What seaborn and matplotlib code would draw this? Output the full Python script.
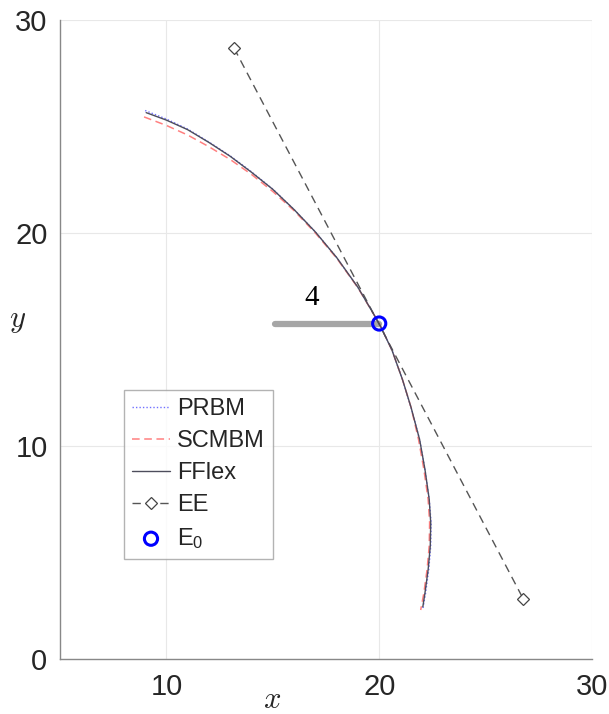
import matplotlib
matplotlib.use("Agg")
import matplotlib.pyplot as plt
import numpy as np
import pandas as pd
import seaborn as sns

# Beam deflection curves (x, y) for each model
fflex_x = [9.05, 10.0, 11.0, 12.0, 13.0, 14.0, 15.0, 16.0, 17.0, 18.0, 19.0, 20.0,
           20.6, 21.1, 21.5, 21.9, 22.15, 22.35, 22.42, 22.40, 22.30, 22.15, 22.05]
fflex_y = [25.65, 25.3, 24.85, 24.25, 23.6, 22.85, 22.05, 21.1, 20.05, 18.85, 17.45, 15.75,
           14.5, 13.1, 11.8, 10.3, 8.9, 7.5, 6.4, 5.3, 4.2, 3.1, 2.45]

scmbm_x = [8.95, 10.0, 11.0, 12.0, 13.0, 14.0, 15.0, 16.0, 17.0, 18.0, 19.0, 20.0,
           20.6, 21.1, 21.5, 21.85, 22.1, 22.3, 22.37, 22.35, 22.25, 22.1, 21.95]
scmbm_y = [25.45, 25.05, 24.6, 24.05, 23.45, 22.75, 21.95, 21.05, 20.0, 18.82, 17.43, 15.75,
           14.5, 13.1, 11.8, 10.3, 8.9, 7.5, 6.4, 5.3, 4.2, 3.1, 2.3]

prbm_x = [9.0, 10.0, 11.0, 12.0, 13.0, 14.0, 15.0, 16.0, 17.0, 18.0, 19.0, 20.0,
          20.6, 21.1, 21.5, 21.9, 22.15, 22.35, 22.44, 22.42, 22.33, 22.18, 22.05]
prbm_y = [25.75, 25.35, 24.88, 24.27, 23.62, 22.87, 22.06, 21.1, 20.05, 18.85, 17.45, 15.75,
          14.5, 13.1, 11.8, 10.3, 8.9, 7.5, 6.4, 5.3, 4.2, 3.1, 2.35]

# End-effector tangent line through E0
ee_x = [13.18, 26.77]
ee_y = [28.68, 2.82]

# Initial end point
e0_x = [20.0]
e0_y = [15.75]

# Dimension bar and its label
bar_x = [15.1, 20.0]
bar_y = [15.75, 15.75]
bar_label = "4"

x_ticks = [10, 20, 30]
y_ticks = [0, 10, 20, 30]

sns.set_theme(style="white")
plt.rcParams["font.family"] = ["Liberation Sans", "DejaVu Sans"]
plt.rcParams["mathtext.fontset"] = "cm"

fig = plt.figure(figsize=(6.09, 7.14), dpi=100)
ax = fig.add_axes([60 / 609, 55 / 714, 532 / 609, 639 / 714])

df_prbm = pd.DataFrame({"x": prbm_x, "y": prbm_y})
df_scmbm = pd.DataFrame({"x": scmbm_x, "y": scmbm_y})
df_fflex = pd.DataFrame({"x": fflex_x, "y": fflex_y})
df_ee = pd.DataFrame({"x": ee_x, "y": ee_y})
df_e0 = pd.DataFrame({"x": e0_x, "y": e0_y})
df_bar = pd.DataFrame({"x": bar_x, "y": bar_y})

common = dict(x="x", y="y", sort=False, estimator=None, ax=ax)

sns.lineplot(data=df_bar, **common, color="#a6a6a6", linewidth=4.5, zorder=3, legend=False)
sns.lineplot(data=df_prbm, **common, color="#7070ff", linewidth=1.0,
             linestyle=(0, (1, 1.5)), label="PRBM", zorder=4)
sns.lineplot(data=df_scmbm, **common, color="#ff8080", linewidth=1.1,
             linestyle=(0, (5, 3)), label="SCMBM", zorder=4)
sns.lineplot(data=df_fflex, **common, color="#4d4d5c", linewidth=1.0,
             label="FFlex", zorder=5)
sns.lineplot(data=df_ee, **common, color="#555555", linewidth=1.0,
             linestyle=(0, (6, 4)), marker="D", markersize=6,
             markerfacecolor="white", markeredgecolor="#444444", markeredgewidth=0.9,
             label="EE", zorder=4)
sns.scatterplot(data=df_e0, x="x", y="y", ax=ax, s=90, facecolor="none",
                edgecolor="#0000ff", linewidth=2.2, label=r"$\mathregular{E_0}$", zorder=6)

ax.text(16.85, 16.95, bar_label, fontsize=21,
        fontfamily=["Liberation Serif", "DejaVu Serif"],
        ha="center", va="center", color="black")

ax.set_xlim(5, 30)
ax.set_ylim(0, 30)
ax.set_xticks(x_ticks)
ax.set_yticks(y_ticks)
ax.tick_params(axis="both", labelsize=21, colors="#262626", direction="in",
               length=5, width=0.8, pad=10, color="#555555")
ax.tick_params(axis="y", pad=9)
ax.grid(True, color="#e8e8e8", linewidth=0.8)
for side in ["top", "right"]:
    ax.spines[side].set_visible(False)
for side in ["left", "bottom"]:
    ax.spines[side].set_color("#888888")
    ax.spines[side].set_linewidth(1.0)

ax.set_xlabel(r"$x$", fontsize=22)
ax.set_ylabel(r"$y$", fontsize=22, rotation=0, va="center", ha="center")
ax.yaxis.set_label_coords(-0.079, 0.53)
ax.xaxis.set_label_coords(0.398, -0.04)

leg = ax.legend(loc="upper left", bbox_to_anchor=(0.12, 0.421), borderaxespad=0,
                fontsize=17, frameon=True, fancybox=False, handlelength=1.6,
                handletextpad=0.3, labelspacing=0.42, borderpad=0.35)
leg.get_frame().set_edgecolor("#a0a0a0")
leg.get_frame().set_linewidth(1.0)

fig.savefig("out.png", dpi=100, facecolor="white")
